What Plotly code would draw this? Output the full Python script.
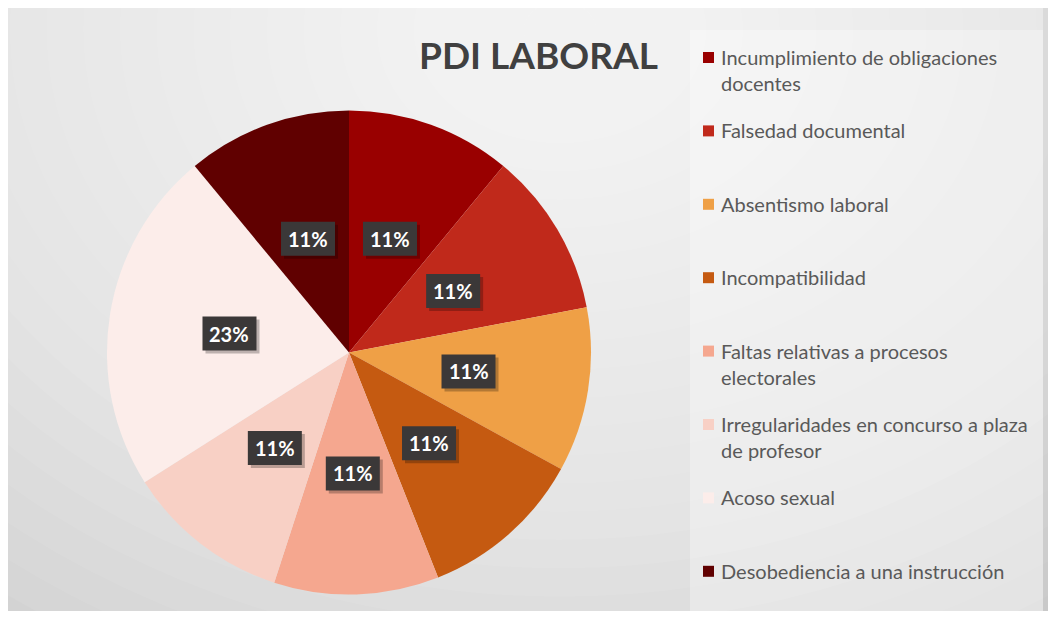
import numpy as np
import plotly.graph_objects as go

# Data
categories = ["Incumplimiento de obligaciones<br>docentes",
              "Falsedad documental",
              "Absentismo laboral",
              "Incompatibilidad",
              "Faltas relativas a procesos<br>electorales",
              "Irregularidades en concurso a plaza<br>de profesor",
              "Acoso sexual",
              "Desobediencia a una instrucción"]
values = [11, 11, 11, 11, 11, 11, 23, 11]
colors = ["#990000", "#C0291B", "#EFA046", "#C55A11",
          "#F5A78F", "#F8D0C5", "#FCEDEA", "#600000"]

# the page body has an 8px margin, so the figure is 16px smaller
OFF = 8
W, H = 1056 - 2 * OFF, 619 - 2 * OFF


def px(x):
    return (x - OFF) / W


def py(y):
    return 1 - (y - OFF) / H


# pie placement (window pixels)
cx, cy, r = 349, 352.5, 242
lab_r = 121

fig = go.Figure()
fig.add_trace(go.Pie(labels=[c.replace("<br>", " ") for c in categories],
                     values=values, sort=False, direction="clockwise",
                     rotation=0, textinfo="none", hoverinfo="label+percent",
                     marker=dict(colors=colors, line=dict(width=0)),
                     domain=dict(x=[px(cx - r), px(cx + r)],
                                 y=[py(cy + r), py(cy - r)]),
                     showlegend=False))

shapes = []
# chart frame + radial gradient background
shapes.append(dict(type="rect", xref="paper", yref="paper", layer="below",
                   x0=px(6), x1=px(1050), y0=py(616), y1=py(6),
                   fillcolor="#c2c2c2", line=dict(width=0)))
n_rings = 30
for i in range(n_rings):
    rr = 1000 * (1 - i / n_rings)
    shapes.append(dict(type="circle", xref="paper", yref="paper",
                       layer="below",
                       x0=px(560 - rr * 1.1), x1=px(560 + rr * 1.1),
                       y0=py(30 + rr * 0.85), y1=py(30 - rr * 0.85),
                       fillcolor="rgba(255,255,255,0.07)",
                       line=dict(width=0)))
# white page around the frame
for x0, x1, y0, y1 in [(-0.5, 1.5, py(6), 1.5), (-0.5, px(6), -0.5, 1.5),
                       (px(1050), 1.5, -0.5, 1.5), (-0.5, 1.5, -0.5, py(616))]:
    shapes.append(dict(type="rect", xref="paper", yref="paper", layer="below",
                       x0=x0, x1=x1, y0=y0, y1=y1,
                       fillcolor="white", line=dict(width=0)))
shapes.append(dict(type="rect", xref="paper", yref="paper", layer="below",
                   x0=px(1043), x1=px(1050), y0=py(616), y1=py(6),
                   fillcolor="rgba(0,0,0,0.06)", line=dict(width=0)))
# legend panel
shapes.append(dict(type="rect", xref="paper", yref="paper", layer="below",
                   x0=px(690), x1=px(1043), y0=py(616), y1=py(30),
                   fillcolor="rgba(255,255,255,0.3)", line=dict(width=0)))

annotations = []
# percentage labels (dark boxes with a soft drop shadow)
bw, bh = 54, 34
total = sum(values)
cum = 0
for v in values:
    mid = (cum + v / 2) / total * 2 * np.pi
    cum += v
    lx = cx + lab_r * np.sin(mid)
    ly = cy - lab_r * np.cos(mid)
    pct = f"{round(v / total * 100)}%"
    shapes.append(dict(type="rect", xref="paper", yref="paper",
                       layer="above",
                       x0=px(lx - bw / 2 + 3), x1=px(lx + bw / 2 + 3),
                       y0=py(ly + bh / 2 + 3), y1=py(ly - bh / 2 + 3),
                       fillcolor="rgba(0,0,0,0.25)", line=dict(width=0)))
    shapes.append(dict(type="rect", xref="paper", yref="paper",
                       layer="above",
                       x0=px(lx - bw / 2), x1=px(lx + bw / 2),
                       y0=py(ly + bh / 2), y1=py(ly - bh / 2),
                       fillcolor="#3b3838", line=dict(width=0)))
    annotations.append(dict(x=px(lx), y=py(ly), xref="paper", yref="paper",
                            xanchor="center", yanchor="middle",
                            text=f"<b>{pct}</b>", showarrow=False,
                            font=dict(family="Lato", size=20, color="white")))

# custom legend
leg_y0, leg_step = 57, 73.4
for i, (cat, col) in enumerate(zip(categories, colors)):
    yc = leg_y0 + i * leg_step
    shapes.append(dict(type="rect", xref="paper", yref="paper",
                       x0=px(703), x1=px(714), y0=py(yc + 6), y1=py(yc - 5),
                       fillcolor=col, line=dict(width=0)))
    annotations.append(dict(x=px(719), y=py(yc - 14), xref="paper",
                            yref="paper", xanchor="left", yanchor="top",
                            align="left", text=cat, showarrow=False,
                            font=dict(family="Lato", size=20,
                                      color="#595959")))

annotations.append(dict(x=px(538), y=py(55), xref="paper", yref="paper",
                        xanchor="center", yanchor="middle",
                        text="<b>PDI LABORAL</b>", showarrow=False,
                        font=dict(family="Lato", size=37, color="#404040")))

fig.update_layout(width=W, height=H, margin=dict(l=0, r=0, t=0, b=0),
                  paper_bgcolor="white", plot_bgcolor="white",
                  shapes=shapes, annotations=annotations)

fig.write_html("out.html")
